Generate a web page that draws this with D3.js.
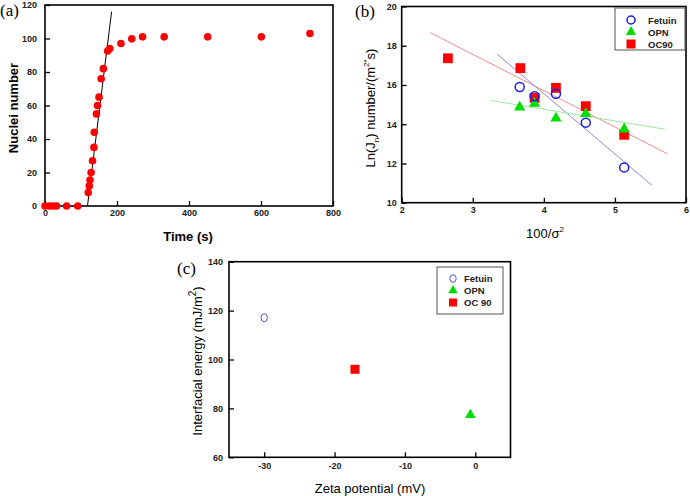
<!DOCTYPE html>
<html>
<head>
<meta charset="utf-8">
<script src="https://cdn.jsdelivr.net/npm/d3@7"></script>
<style>
  body { margin: 0; background: #fff; }
  svg { display: block; font-family: 'Liberation Sans', Arial, sans-serif; }
</style>
</head>
<body>
<div id="chart"></div>
<script>
// panel (a): nuclei count vs time
const timeS = [0, 12, 23, 32, 60, 91, 120, 123, 125, 128, 132, 136, 137, 143, 146, 150, 156, 162, 174, 180, 211, 241, 271, 331, 452, 601, 736];
const nuclei = [0, 0, 0, 0, 0, 0, 8, 12, 15.5, 20, 27, 35, 44, 55, 60, 65, 76, 82, 92.5, 94, 97, 99.8, 101, 101, 101, 101, 103];
const fitA = [[118, 0], [185, 116]];
const ticksTime = [0, 200, 400, 600, 800];
const ticksNuclei = [0, 20, 40, 60, 80, 100, 120];

// panel (b): Ln(Jn) vs 100/sigma^2
const fetuinX = [3.66, 3.87, 4.17, 4.59, 5.13];
const fetuinY = [15.9, 15.43, 15.55, 14.08, 11.8];
const opnX = [3.66, 3.87, 4.17, 4.59, 5.13];
const opnY = [14.87, 15.06, 14.3, 14.54, 13.75];
const oc90X = [2.65, 3.67, 3.87, 4.17, 4.59, 5.13];
const oc90Y = [17.36, 16.86, 15.34, 15.85, 14.92, 13.46];
const fitFetuin = [[3.34, 17.58], [5.52, 10.89]];
const fitOpn = [[3.25, 15.21], [5.7, 13.75]];
const fitOc90 = [[2.4, 18.67], [5.74, 12.49]];
const ticksSigma = [2, 3, 4, 5, 6];
const ticksLn = [10, 12, 14, 16, 18, 20];

// panel (c): interfacial energy vs zeta potential
const proteins = ['Fetuin', 'OPN', 'OC 90'];
const zeta = [-30, -0.7, -17.1];
const energy = [117.1, 77.3, 96];
const ticksZeta = [-30, -20, -10, 0];
const ticksEnergy = [60, 80, 100, 120, 140];

const width = 690;
const height = 496;
const red = '#ff0000';
const green = '#00dd00';
const blue = '#1a1ae6';

const svg = d3.select('#chart')
  .append('svg')
  .attr('width', width)
  .attr('height', height);

// plain hyphen for negatives, like the original
const fmt = d => String(d);

/**
 * frame + inside ticks for one panel
 */
const drawFrame = function(g, x, y, xt, yt, padX, padY) {
  const [x0, x1] = x.range();
  const [y0, y1] = y.range();

  g.append('g')
    .attr('transform', `translate(0,${y0})`)
    .call(d3.axisBottom(x).tickValues(xt).tickFormat(fmt).tickSize(-5).tickPadding(padX))
    .call(a => a.select('.domain').remove());

  g.append('g')
    .attr('transform', `translate(${x0},0)`)
    .call(d3.axisLeft(y).tickValues(yt).tickFormat(fmt).tickSize(-5).tickPadding(padY))
    .call(a => a.select('.domain').remove());

  g.selectAll('.tick line').attr('stroke', '#000').attr('stroke-width', 1.3);
  g.selectAll('.tick text')
    .attr('fill', '#222')
    .style('font-family', "'Liberation Sans', Arial, sans-serif")
    .style('font-size', '9px')
    .style('font-weight', 'bold');

  g.append('rect')
    .attr('x', x0)
    .attr('y', y1)
    .attr('width', x1 - x0)
    .attr('height', y0 - y1)
    .attr('fill', 'none')
    .attr('stroke', '#000')
    .attr('stroke-width', 1.6);
};

const tri = d3.symbol().type(d3.symbolTriangle);
const sq = d3.symbol().type(d3.symbolSquare);

const panelLabel = function(txt, px, py) {
  svg.append('text')
    .attr('x', px)
    .attr('y', py)
    .style('font-family', "'Liberation Serif', 'Times New Roman', serif")
    .style('font-size', '17px')
    .text(txt);
};

/* ---------- (a) ---------- */
const ga = svg.append('g');
const xa = d3.scaleLinear().domain([0, 800]).range([45, 333]);
const ya = d3.scaleLinear().domain([0, 120]).range([206, 5]);
drawFrame(ga, xa, ya, ticksTime, ticksNuclei, 4, 8);

ga.append('path')
  .attr('d', d3.line().x(d => xa(d[0])).y(d => ya(d[1]))(fitA))
  .attr('stroke', '#000')
  .attr('stroke-width', 1)
  .attr('fill', 'none');

ga.selectAll('circle.pt')
  .data(timeS)
  .enter()
  .append('circle')
  .attr('class', 'pt')
  .attr('cx', d => xa(d))
  .attr('cy', (d, i) => ya(nuclei[i]))
  .attr('r', 3.8)
  .attr('fill', red);

ga.append('text')
  .attr('x', 188)
  .attr('y', 241)
  .attr('text-anchor', 'middle')
  .style('font-size', '13px')
  .style('font-weight', 'bold')
  .text('Time (s)');

ga.append('text')
  .attr('transform', 'translate(18,108) rotate(-90)')
  .attr('text-anchor', 'middle')
  .style('font-size', '13px')
  .style('font-weight', 'bold')
  .text('Nuclei number');

panelLabel('(a)', 0, 16);

/* ---------- (b) ---------- */
const gb = svg.append('g');
const xb = d3.scaleLinear().domain([2, 6]).range([401.7, 686]);
const yb = d3.scaleLinear().domain([10, 20]).range([202.7, 6.5]);
drawFrame(gb, xb, yb, ticksSigma, ticksLn, 4, 5);

const lineB = d3.line().x(d => xb(d[0])).y(d => yb(d[1]));
[[fitOc90, '#f08a8a'], [fitFetuin, '#8c8cd0'], [fitOpn, '#9ae89a']].forEach(([pts, c]) => {
  gb.append('path')
    .attr('d', lineB(pts))
    .attr('stroke', c)
    .attr('stroke-width', 1)
    .attr('fill', 'none');
});

gb.selectAll('path.oc90')
  .data(oc90X)
  .enter()
  .append('path')
  .attr('class', 'oc90')
  .attr('d', sq.size(96))
  .attr('transform', (d, i) => `translate(${xb(d)},${yb(oc90Y[i])})`)
  .attr('fill', red);

gb.selectAll('path.opn')
  .data(opnX)
  .enter()
  .append('path')
  .attr('class', 'opn')
  .attr('d', tri.size(55))
  .attr('transform', (d, i) => `translate(${xb(d)},${yb(opnY[i])})`)
  .attr('fill', green);

gb.selectAll('circle.fet')
  .data(fetuinX)
  .enter()
  .append('circle')
  .attr('class', 'fet')
  .attr('cx', d => xb(d))
  .attr('cy', (d, i) => yb(fetuinY[i]))
  .attr('r', 4.5)
  .attr('fill', 'none')
  .attr('stroke', blue)
  .attr('stroke-width', 1.5);

// legend (b)
gb.append('rect')
  .attr('x', 615).attr('y', 8).attr('width', 70).attr('height', 42)
  .attr('fill', '#fff').attr('stroke', '#555').attr('stroke-width', 1);
const legB = [['Fetuin', 20], ['OPN', 32], ['OC90', 44]];
gb.append('circle').attr('cx', 631).attr('cy', 20).attr('r', 4).attr('fill', 'none').attr('stroke', blue).attr('stroke-width', 1.5);
gb.append('path').attr('d', tri.size(45)).attr('transform', 'translate(631,32)').attr('fill', green);
gb.append('path').attr('d', sq.size(81)).attr('transform', 'translate(631,44)').attr('fill', red);
gb.selectAll('text.leg')
  .data(legB)
  .enter()
  .append('text')
  .attr('class', 'leg')
  .attr('x', 648)
  .attr('y', d => d[1] + 3.5)
  .style('font-size', '9.5px')
  .style('font-weight', 'bold')
  .attr('fill', '#222')
  .text(d => d[0]);

const tb = gb.append('text')
  .attr('x', 545)
  .attr('y', 238)
  .attr('text-anchor', 'middle')
  .style('font-size', '13px');
tb.append('tspan').text('100/σ');
tb.append('tspan').attr('dy', -6).style('font-size', '8px').text('2');

const yt = gb.append('text')
  .attr('transform', 'translate(375,108) rotate(-90)')
  .attr('text-anchor', 'middle')
  .style('font-size', '13px');
yt.append('tspan').text('Ln(J');
yt.append('tspan').attr('dy', 4).style('font-size', '8px').text('n');
yt.append('tspan').attr('dy', -4).text(') number/(m');
yt.append('tspan').attr('dy', -6).style('font-size', '8px').text('2*');
yt.append('tspan').attr('dy', 6).text('s)');

panelLabel('(b)', 355, 17);

/* ---------- (c) ---------- */
const gc = svg.append('g');
const xc = d3.scaleLinear().domain([-35, 5]).range([229, 510.5]);
const yc = d3.scaleLinear().domain([60, 140]).range([457.3, 261.7]);
drawFrame(gc, xc, yc, ticksZeta, ticksEnergy, 5, 6);

// Fetuin, OPN, OC 90
gc.append('ellipse')
  .attr('cx', xc(zeta[0]))
  .attr('cy', yc(energy[0]))
  .attr('rx', 3.2)
  .attr('ry', 4)
  .attr('fill', 'none')
  .attr('stroke', '#5050e0')
  .attr('stroke-width', 1);
gc.append('path')
  .attr('d', tri.size(50))
  .attr('transform', `translate(${xc(zeta[1])},${yc(energy[1])})`)
  .attr('fill', green);
gc.append('path')
  .attr('d', sq.size(81))
  .attr('transform', `translate(${xc(zeta[2])},${yc(energy[2])})`)
  .attr('fill', red);

// legend (c)
gc.append('rect')
  .attr('x', 437).attr('y', 267).attr('width', 66).attr('height', 47)
  .attr('fill', '#fff').attr('stroke', '#555').attr('stroke-width', 1);
const legY = [278.5, 290.5, 302.5];
gc.append('ellipse').attr('cx', 453).attr('cy', legY[0]).attr('rx', 3.2).attr('ry', 3.8).attr('fill', 'none').attr('stroke', '#5050e0').attr('stroke-width', 1);
gc.append('path').attr('d', tri.size(40)).attr('transform', `translate(453,${legY[1]})`).attr('fill', green);
gc.append('path').attr('d', sq.size(64)).attr('transform', `translate(453,${legY[2]})`).attr('fill', red);
gc.selectAll('text.leg')
  .data(proteins)
  .enter()
  .append('text')
  .attr('class', 'leg')
  .attr('x', 464)
  .attr('y', (d, i) => legY[i] + 3.5)
  .style('font-size', '9.5px')
  .style('font-weight', 'bold')
  .attr('fill', '#222')
  .text(d => d);

gc.append('text')
  .attr('x', 370)
  .attr('y', 493)
  .attr('text-anchor', 'middle')
  .style('font-size', '13px')
  .text('Zeta potential (mV)');

const yc_t = gc.append('text')
  .attr('transform', 'translate(202,361) rotate(-90)')
  .attr('text-anchor', 'middle')
  .style('font-size', '13px');
yc_t.append('tspan').text('Interfacial energy (mJ/m');
yc_t.append('tspan').attr('dy', -6).style('font-size', '10px').text('2');
yc_t.append('tspan').attr('dy', 6).text(')');

panelLabel('(c)', 177, 274);
</script>
</body>
</html>
